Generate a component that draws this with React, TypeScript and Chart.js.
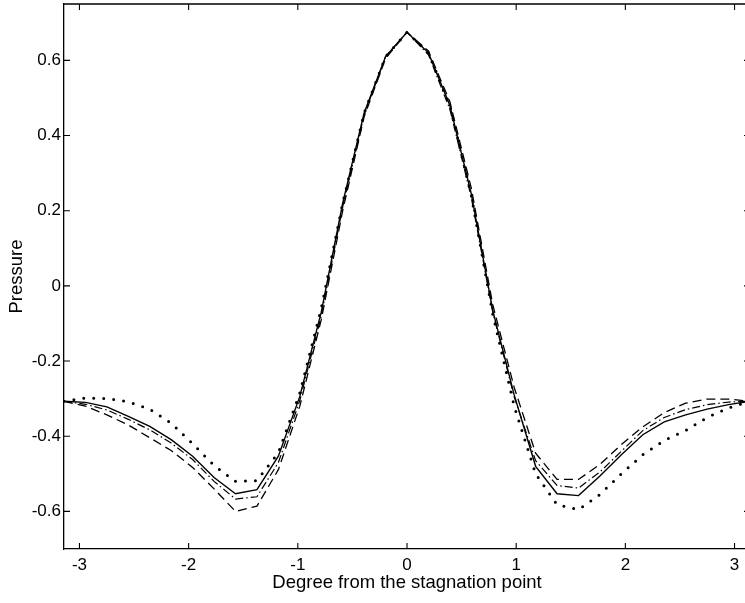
import React, { useEffect, useRef } from "react";
import { Chart, registerables } from "chart.js";

Chart.register(...registerables);

// Angle grid (degree from the stagnation point)
const angles = [
  -3.1416, -2.9452, -2.7489, -2.5525, -2.3562, -2.1598, -1.9635, -1.7671, -1.5708,
  -1.3744, -1.1781, -0.9817, -0.7854, -0.589, -0.3927, -0.1963, 0, 0.1963, 0.3927,
  0.589, 0.7854, 0.9817, 1.1781, 1.3744, 1.5708, 1.7671, 1.9635, 2.1598, 2.3562,
  2.5525, 2.7489, 2.9452, 3.1416,
];

const solidSeries = [
  -0.307, -0.31, -0.322, -0.347, -0.374, -0.409, -0.453, -0.51, -0.553, -0.542, -0.453,
  -0.294, -0.07, 0.22, 0.46, 0.61, 0.675, 0.62, 0.48, 0.245, -0.065, -0.29, -0.48,
  -0.553, -0.558, -0.506, -0.449, -0.396, -0.362, -0.343, -0.328, -0.316, -0.307,
];

const dashDotSeries = [
  -0.307, -0.315, -0.33, -0.355, -0.383, -0.418, -0.462, -0.52, -0.567, -0.561, -0.47,
  -0.305, -0.08, 0.21, 0.455, 0.61, 0.675, 0.615, 0.47, 0.235, -0.07, -0.295, -0.465,
  -0.531, -0.538, -0.495, -0.44, -0.385, -0.35, -0.329, -0.316, -0.309, -0.307,
];

const dashedSeries = [
  -0.307, -0.32, -0.343, -0.37, -0.404, -0.438, -0.483, -0.54, -0.6, -0.586, -0.489,
  -0.32, -0.09, 0.2, 0.45, 0.605, 0.675, 0.625, 0.49, 0.26, -0.05, -0.27, -0.445,
  -0.515, -0.515, -0.475, -0.422, -0.375, -0.337, -0.312, -0.301, -0.301, -0.307,
];

const dottedSeries = [
  -0.307, -0.298, -0.3, -0.308, -0.328, -0.365, -0.42, -0.478, -0.52, -0.518, -0.444,
  -0.285, -0.06, 0.22, 0.46, 0.61, 0.675, 0.62, 0.48, 0.24, -0.075, -0.32, -0.5,
  -0.582, -0.595, -0.555, -0.5, -0.449, -0.411, -0.385, -0.35, -0.325, -0.307,
];

const xTickValues = [-3, -2, -1, 0, 1, 2, 3];
const yTickValues = [-0.6, -0.4, -0.2, 0, 0.2, 0.4, 0.6];

const FONT = "'Liberation Sans', Arial, Helvetica, sans-serif";

const toPoints = (ys: number[]) => angles.map((x, i) => ({ x, y: ys[i] }));

const boxTicksPlugin = {
  id: "boxTicks",
  afterDraw(chart: any) {
    const { ctx, chartArea, scales } = chart;
    const xs = scales.x;
    const ys = scales.y;
    const len = 6;
    ctx.save();
    ctx.strokeStyle = "#000";
    ctx.lineWidth = 1.3;
    ctx.beginPath();
    ctx.moveTo(chartArea.left, chartArea.top);
    ctx.lineTo(chartArea.right, chartArea.top);
    ctx.moveTo(chartArea.right, chartArea.top);
    ctx.lineTo(chartArea.right, chartArea.bottom);
    ctx.stroke();
    ctx.lineWidth = 1.1;
    ctx.beginPath();
    xs.ticks.forEach((t: any) => {
      const px = xs.getPixelForValue(t.value);
      ctx.moveTo(px, chartArea.bottom);
      ctx.lineTo(px, chartArea.bottom - len);
      ctx.moveTo(px, chartArea.top);
      ctx.lineTo(px, chartArea.top + len);
    });
    ys.ticks.forEach((t: any) => {
      const py = ys.getPixelForValue(t.value);
      ctx.moveTo(chartArea.left, py);
      ctx.lineTo(chartArea.left + len, py);
      ctx.moveTo(chartArea.right, py);
      ctx.lineTo(chartArea.right - len, py);
    });
    ctx.stroke();
    ctx.restore();
  },
};

export default function App() {
  const canvasRef = useRef<HTMLCanvasElement | null>(null);

  useEffect(() => {
    const canvas = canvasRef.current;
    if (!canvas) return;
    const lineBase = {
      showLine: true,
      pointRadius: 0,
      borderColor: "#000",
      backgroundColor: "#000",
      fill: false,
      tension: 0,
    };
    const chart = new Chart(canvas, {
      type: "scatter",
      data: {
        datasets: [
          { ...lineBase, label: "solid", data: toPoints(solidSeries), borderWidth: 1.4 },
          {
            ...lineBase,
            label: "dash-dot",
            data: toPoints(dashDotSeries),
            borderWidth: 1.2,
            borderDash: [8, 3, 1.5, 3],
          },
          {
            ...lineBase,
            label: "dashed",
            data: toPoints(dashedSeries),
            borderWidth: 1.3,
            borderDash: [9, 5],
          },
          {
            ...lineBase,
            label: "dotted",
            data: toPoints(dottedSeries),
            borderWidth: 3,
            borderDash: [0, 10],
            borderCapStyle: "round",
          },
        ],
      },
      options: {
        animation: false,
        responsive: false,
        maintainAspectRatio: false,
        layout: { padding: { top: 4, right: 0, left: 0, bottom: 0 } },
        plugins: {
          legend: { display: false },
          tooltip: { enabled: false },
        },
        scales: {
          x: {
            type: "linear",
            min: -3.1416,
            max: 3.1416,
            afterBuildTicks: (s: any) => {
              s.ticks = xTickValues.map((v) => ({ value: v }));
            },
            afterFit: (s: any) => {
              s.height = 54;
              s.paddingLeft = 0;
              s.paddingRight = 0;
            },
            grid: { display: true, drawOnChartArea: false, drawTicks: false },
            border: { display: true, color: "#000", width: 1.3 },
            ticks: {
              color: "#000",
              font: { family: FONT, size: 17 },
              padding: 6,
              maxRotation: 0,
              autoSkip: false,
              callback: (v: any) => String(v),
            },
            title: {
              display: true,
              text: "Degree from the stagnation point",
              color: "#000",
              font: { family: FONT, size: 18.5 },
              padding: { top: 0, bottom: 9 },
            },
          },
          y: {
            type: "linear",
            min: -0.7,
            max: 0.75,
            afterBuildTicks: (s: any) => {
              s.ticks = yTickValues.map((v) => ({ value: v }));
            },
            afterFit: (s: any) => {
              s.width = 64;
              s.paddingTop = 0;
              s.paddingBottom = 0;
            },
            grid: { display: true, drawOnChartArea: false, drawTicks: false },
            border: { display: true, color: "#000", width: 1.3 },
            ticks: {
              color: "#000",
              font: { family: FONT, size: 17 },
              padding: 3,
              autoSkip: false,
              callback: (v: any) => (Math.abs(v) < 1e-9 ? "0" : Number(v).toFixed(1)),
            },
            title: {
              display: true,
              text: "Pressure",
              color: "#000",
              font: { family: FONT, size: 18.5 },
              padding: { top: 6, bottom: 0 },
            },
          },
        },
      },
      plugins: [boxTicksPlugin],
    });
    return () => chart.destroy();
  }, []);

  return (
    <div
      style={{
        position: "absolute",
        left: 0,
        top: 0,
        width: 745,
        height: 603,
        overflow: "hidden",
        background: "#fff",
      }}
    >
      <canvas ref={canvasRef} width={750} height={603} style={{ display: "block" }} />
    </div>
  );
}
